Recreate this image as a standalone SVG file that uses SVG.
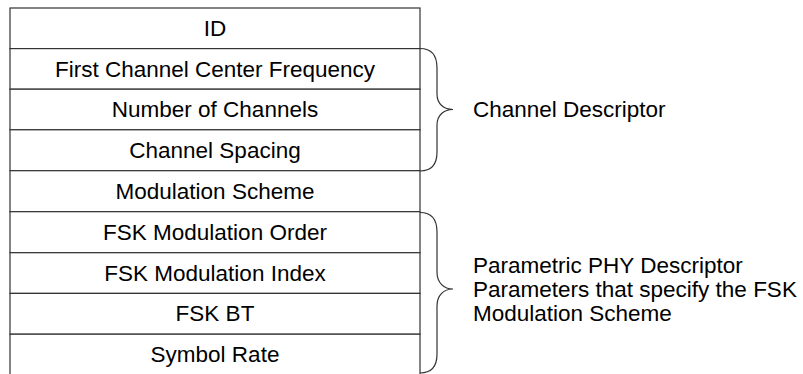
<svg xmlns="http://www.w3.org/2000/svg" width="803" height="374" viewBox="0 0 803 374">
<style>
.cell{fill:#fff;stroke:#333;stroke-width:1.2}
.t{font-family:"Liberation Sans",Arial,sans-serif;font-size:22.5px;fill:#000}
.c{text-anchor:middle}
.br{fill:none;stroke:#333;stroke-width:1.2}
</style>
<rect width="803" height="374" fill="#fff"/>
<g id="row-id"><rect class="cell" x="10" y="8" width="410" height="40.6"/><text class="t c" x="215" y="36">ID</text></g>
<g id="row-first-channel"><rect class="cell" x="10" y="48.6" width="410" height="40.6"/><text class="t c" x="215" y="76.6">First Channel Center Frequency</text></g>
<g id="row-num-channels"><rect class="cell" x="10" y="89.2" width="410" height="40.6"/><text class="t c" x="215" y="117.2">Number of Channels</text></g>
<g id="row-spacing"><rect class="cell" x="10" y="129.8" width="410" height="40.9"/><text class="t c" x="215" y="158">Channel Spacing</text></g>
<g id="row-mod-scheme"><rect class="cell" x="10" y="170.7" width="410" height="41"/><text class="t c" x="215" y="198.8">Modulation Scheme</text></g>
<g id="row-fsk-order"><rect class="cell" x="10" y="211.7" width="410" height="41"/><text class="t c" x="215" y="239.7">FSK Modulation Order</text></g>
<g id="row-fsk-index"><rect class="cell" x="10" y="252.7" width="410" height="40.7"/><text class="t c" x="215" y="280.6">FSK Modulation Index</text></g>
<g id="row-fsk-bt"><rect class="cell" x="10" y="293.4" width="410" height="40.8"/><text class="t c" x="215" y="321.4">FSK BT</text></g>
<g id="row-symbol-rate"><rect class="cell" x="10" y="334.2" width="410" height="60"/><text class="t c" x="215" y="362.2">Symbol Rate</text></g>
<g id="connectors">
<path class="br" d="M420,48.5 C432,48.5 437,56 437,68 L437,94 C437,104 444,109.5 453,109.5 C444,109.5 437,115 437,125 L437,152 C437,164 432,171 420,171"/>
<path class="br" d="M420,212.5 C432,212.5 437,220 437,232 L437,272 C437,283 444,289 453,289 C444,289 437,295 437,306 L437,354 C437,366 432,373 420,373"/>
</g>
<g id="label-channel-descriptor"><text class="t" x="473" y="117">Channel Descriptor</text></g>
<g id="label-parametric"><text class="t" x="473" y="272.5">Parametric PHY Descriptor</text><text class="t" x="473" y="296.5">Parameters that specify the FSK</text><text class="t" x="473" y="320.5">Modulation Scheme</text></g>
</svg>
